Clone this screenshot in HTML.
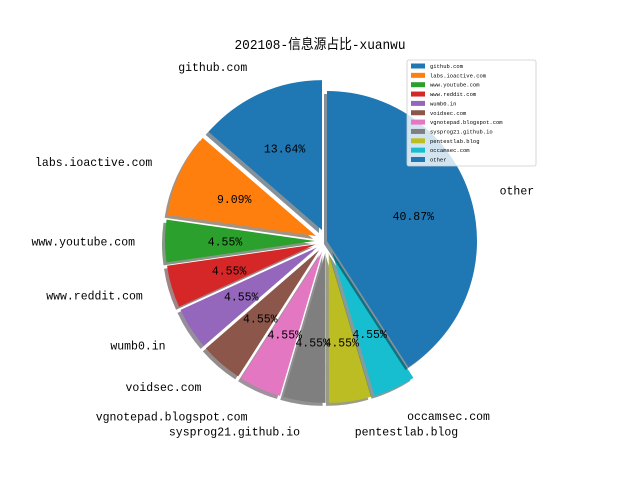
<!DOCTYPE html>
<html><head><meta charset="utf-8"><style>
html,body{margin:0;padding:0;background:#fff;}
svg{display:block;}
text{font-family:"Liberation Mono","Noto Sans CJK SC",monospace;fill:#000;}
</style></head><body>
<svg id="chart" width="640" height="480" viewBox="0 0 640 480" xmlns="http://www.w3.org/2000/svg">
<rect width="640" height="480" fill="#fff"/>
<text x="320" y="49" font-size="14" text-anchor="middle" textLength="171" lengthAdjust="spacingAndGlyphs">202108-信息源占比-xuanwu</text>
<g id="pie"></g>
<g id="legend"></g>
</svg>
<script>
const categories = ["github.com","labs.ioactive.com","www.youtube.com","www.reddit.com","wumb0.in","voidsec.com","vgnotepad.blogspot.com","sysprog21.github.io","pentestlab.blog","occamsec.com","other"];
const values = [13.64,9.09,4.55,4.55,4.55,4.55,4.55,4.55,4.55,4.55,40.87];
const explode = [0.08,0.08,0.08,0.08,0.08,0.08,0.08,0.08,0.08,0.08,0];
const colors = ["#1f77b4","#ff7f0e","#2ca02c","#d62728","#9467bd","#8c564b","#e377c2","#7f7f7f","#bcbd22","#17becf","#1f77b4"];

const NS = "http://www.w3.org/2000/svg";
const cx = 327, cy = 241, R = 150;
const pie = document.getElementById('pie');
const total = values.reduce((a,b)=>a+b,0);
function pt(x,y,deg,r){const a=deg*Math.PI/180;return [x+r*Math.cos(a), y-r*Math.sin(a)];}
function hexToRgb(h){return [1,3,5].map(i=>parseInt(h.substr(i,2),16));}
function wedgePath(x,y,a0,a1){
  const p0=pt(x,y,a0,R), p1=pt(x,y,a1,R);
  const large=(a1-a0)>180?1:0;
  return `M${x},${y} L${p0[0]},${p0[1]} A${R},${R} 0 ${large} 0 ${p1[0]},${p1[1]} Z`;
}
let ang = 90;
categories.forEach((c,i)=>{
  const span = values[i]/total*360;
  const a0 = ang, a1 = ang+span, mid=(a0+a1)/2;
  const [ox,oy] = pt(cx,cy,mid,explode[i]*R);
  const rgb = hexToRgb(colors[i]).map(v=>Math.round(v*0.3));
  const sh = document.createElementNS(NS,'path');
  sh.setAttribute('d', wedgePath(ox-3,oy+3,a0,a1));
  sh.setAttribute('fill', `rgba(${rgb[0]},${rgb[1]},${rgb[2]},0.5)`);
  
  
  pie.appendChild(sh);
  const w = document.createElementNS(NS,'path');
  w.setAttribute('d', wedgePath(ox,oy,a0,a1));
  w.setAttribute('fill', colors[i]);
  
  
  pie.appendChild(w);
  ang = a1;
});
ang = 90;
categories.forEach((c,i)=>{
  const span = values[i]/total*360;
  const mid = ang+span/2; ang += span;
  const [ox,oy] = pt(cx,cy,mid,explode[i]*R);
  const [lx,ly] = pt(ox,oy,mid,1.2*R);
  const t = document.createElementNS(NS,'text');
  t.setAttribute('x', lx); t.setAttribute('y', ly+4.5);
  t.setAttribute('font-size','12');
  t.setAttribute('text-anchor', Math.cos(mid*Math.PI/180) < 0 ? 'end' : 'start');
  t.setAttribute('textLength', c.length*6.9);
  t.setAttribute('lengthAdjust','spacingAndGlyphs');
  t.textContent = c;
  
  
  pie.appendChild(t);
  const [px,py] = pt(ox,oy,mid,0.6*R);
  const p = document.createElementNS(NS,'text');
  const s = (values[i]/total*100).toFixed(2)+'%';
  p.setAttribute('x', px); p.setAttribute('y', py+4.5);
  p.setAttribute('font-size','12');
  p.setAttribute('text-anchor','middle');
  p.setAttribute('textLength', s.length*6.9);
  p.setAttribute('lengthAdjust','spacingAndGlyphs');
  p.textContent = s;
  
  
  pie.appendChild(p);
});
const lg = document.getElementById('legend');
const box = document.createElementNS(NS,'rect');
box.setAttribute('x',407); box.setAttribute('y',60); box.setAttribute('width',129); box.setAttribute('height',106);
box.setAttribute('rx',2);
box.setAttribute('fill','rgba(255,255,255,0.8)'); box.setAttribute('stroke','#ccc'); box.setAttribute('stroke-width','0.8');


lg.appendChild(box);
categories.forEach((c,i)=>{
  const y = 66 + i*9.35;
  const r = document.createElementNS(NS,'rect');
  r.setAttribute('x',411); r.setAttribute('y',y-2.5); r.setAttribute('width',14); r.setAttribute('height',5);
  r.setAttribute('fill',colors[i]);
  
  
  lg.appendChild(r);
  const t = document.createElementNS(NS,'text');
  t.setAttribute('x',430); t.setAttribute('y',y+2);
  t.setAttribute('font-size','5.5');
  t.setAttribute('textLength', c.length*3.3);
  t.setAttribute('lengthAdjust','spacingAndGlyphs');
  t.textContent = c;
  
  
  lg.appendChild(t);
});
</script>
</body></html>
